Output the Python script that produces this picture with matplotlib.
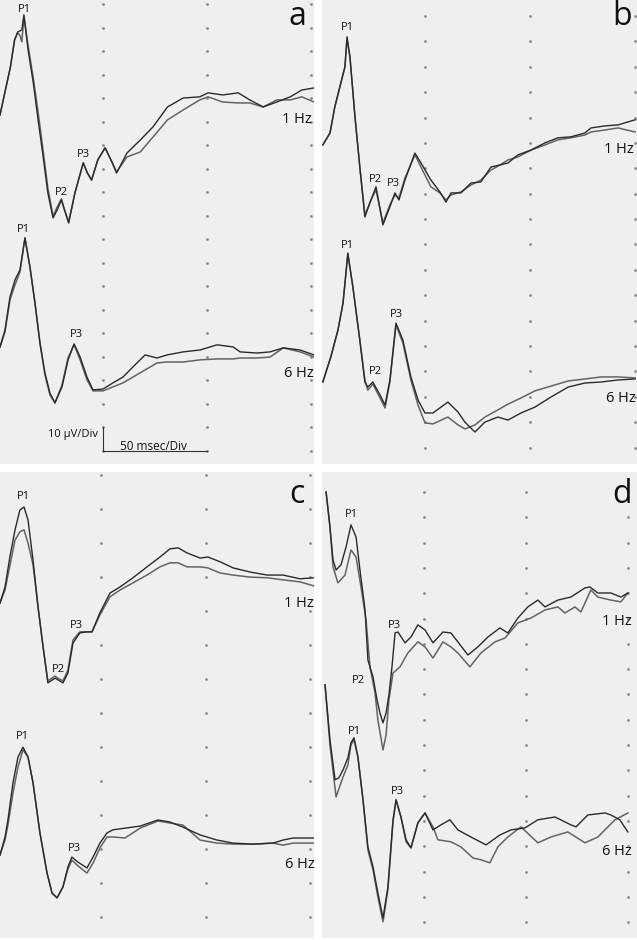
import matplotlib.pyplot as plt

plt.rcParams['font.family'] = ['Open Sans', 'DejaVu Sans']

# ------------------------ traces: time (ms), amplitude (uV) ------------------------ #
# panel a, 1 Hz
a1_t = [0.5, 5.5, 7.5, 9, 10, 11, 12, 14, 16.5, 19, 21, 23.5, 26, 28, 30, 31.5, 33.5, 36.5, 40.5, 42.5,
        44.5, 47.5, 51, 54.5, 56.5, 61.5, 68, 74, 81, 88.5, 96.5, 100.5, 107.5, 115, 120.5, 127, 133.5,
        140, 145.5, 151.5]
a1_v1 = [0, 20.4, 31.9, 35.3, 35.7, 36.2, 42.6, 27.7, 13.6, -3.4, -16.2, -33.2, -43.8, -40.4, -36.2,
         -40.4, -46.0, -33.2, -20.4, -24.7, -27.7, -19.1, -14.0, -20.4, -24.7, -16.2, -10.6, -5.1, 3.4,
         7.2, 7.7, 9.4, 8.5, 9.4, 6.4, 3.4, 5.5, 7.7, 10.6, 11.5]
a1_v2 = [0, 20.4, 31.9, 34.9, 34.0, 31.1, 41.7, 29.4, 15.7, 0.0, -13.6, -31.1, -43.0, -39.1, -35.7,
         -40.4, -45.5, -33.2, -20.4, -24.7, -27.7, -19.1, -14.0, -20.4, -24.3, -17.9, -15.7, -9.4, -2.1,
         2.1, 6.4, 7.7, 5.5, 5.1, 5.1, 3.4, 6.4, 6.4, 7.7, 5.5]

# panel a, 6 Hz
a6_t = [0.5, 2.9, 5.3, 7.7, 10.1, 12.5, 14.9, 17.3, 19.7, 22.1, 24.5, 26.9, 30.3, 33.2, 36.1, 39.0,
        42.3, 45.2, 50.0, 54.8, 59.6, 64.4, 70.2, 76.0, 80.8, 88.5, 96.6, 104.8, 112.5, 115.9, 124.0,
        130.3, 136.6, 144.7, 151.4]
a6_v1 = [0, 7.2, 21.3, 28.5, 32.8, 46.4, 34.0, 18.7, 1.7, -11.1, -19.6, -23.8, -17.0, -5.5, 1.3, -4.3,
         -12.8, -18.3, -17.9, -15.3, -12.8, -8.5, -3.4, -4.7, -3.4, -2.1, -1.3, 0.9, 0, -2.1, -2.6,
         -2.1, -0.4, -1.3, -3.4]
a6_v2 = [0, 6.4, 20.0, 26.4, 31.9, 46.4, 34.0, 18.7, 1.7, -11.9, -20.4, -23.8, -16.2, -4.7, 0.9, -5.5,
         -14.0, -18.7, -18.7, -17.0, -15.3, -12.8, -9.8, -6.8, -6.4, -6.4, -5.5, -5.1, -5.1, -4.7,
         -4.7, -4.3, -0.4, -2.1, -4.3]

# panel b, 1 Hz
b1_t = [1.4, 4.8, 7.1, 9.5, 11.9, 12.9, 14.3, 16.7, 19.0, 21.4, 24.3, 26.7, 30.0, 33.3, 35.7, 37.6,
        40.5, 45.2, 48.1, 52.8, 57.1, 60.0, 62.4, 67.1, 71.9, 76.6, 81.4, 85.7, 89.5, 94.3, 100.5,
        107.1, 113.3, 119.5, 126.1, 129.0, 135.7, 141.9, 150.0]
b1_v1 = [0, 4.7, 15.0, 22.9, 30.7, 42.6, 34.7, 11.0, -8.7, -28.4, -21.7, -16.5, -31.5, -24.4, -18.9,
         -21.7, -13.8, -3.2, -7.1, -13.8, -18.5, -22.5, -18.9, -18.9, -15.0, -14.6, -8.7, -7.9, -7.1,
         -3.9, -2.0, 0.8, 2.8, 3.2, 4.7, 6.7, 7.5, 7.9, 9.9]
b1_v2 = [0, 4.7, 15.0, 22.9, 30.7, 41.8, 34.7, 11.0, -8.7, -27.6, -21.7, -17.7, -30.7, -23.6, -19.7,
         -20.9, -13.0, -3.9, -8.7, -16.5, -18.9, -21.7, -19.7, -18.5, -15.8, -13.8, -9.9, -7.9, -5.9,
         -4.7, -2.0, 0, 2.0, 2.8, 3.9, 5.1, 5.9, 6.7, 5.1]

# panel b, 6 Hz
b6_t = [1.4, 5.2, 8.6, 11.0, 13.3, 15.7, 19.0, 21.4, 22.8, 25.2, 28.6, 31.0, 33.3, 36.2, 39.5, 43.3,
        46.7, 50.0, 53.8, 60.9, 65.7, 69.0, 73.8, 78.5, 84.7, 89.5, 95.7, 102.3, 110.0, 118.1, 126.1,
        133.8, 141.9, 150.0]
b6_v1 = [0, 9.9, 20.5, 31.1, 50.8, 37.4, 16.5, 0, -2.0, 0, -5.1, -9.1, 0.8, 23.2, 16.5, 2.0, -7.1,
         -12.2, -12.2, -7.9, -11.8, -15.8, -19.7, -15.8, -13.8, -15.0, -12.2, -9.9, -5.9, -2.0, -0.4,
         0, 0.8, 1.2]
b6_v2 = [0, 9.9, 20.5, 31.1, 50.4, 37.4, 16.5, 0.8, -3.2, -0.8, -6.3, -10.2, 0, 22.5, 15.4, 0.8, -9.1,
         -16.1, -16.5, -13.8, -16.9, -18.5, -16.9, -13.8, -11.0, -8.7, -6.3, -3.5, -1.6, 0.4, 1.2, 2.0,
         2.0, 1.6]

# panel c, 1 Hz
c1_t = [1.7, 4.1, 6.5, 8.9, 11.2, 13.2, 15.1, 17.5, 19.9, 22.3, 24.6, 28.0, 29.4, 31.8, 34.2, 36.6,
        39.9, 43.3, 45.7, 49.5, 54.3, 59.1, 65.3, 72.0, 78.2, 83.0, 86.9, 91.2, 97.4, 101.2, 107.0,
        113.2, 121.3, 129.5, 137.1, 145.2, 151.9]
c1_v1 = [0, 4.7, 13.8, 21.5, 27.3, 28.2, 24.4, 12.6, -1.2, -12.9, -23.5, -22.1, -22.6, -23.5, -20.6,
         -11.8, -8.8, -8.5, -8.5, -2.9, 2.9, 4.7, 7.4, 10.6, 13.5, 15.9, 16.2, 14.7, 13.2, 13.5, 12.1,
         10.3, 9.1, 8.2, 8.2, 7.1, 7.4]
c1_v2 = [0, 3.8, 11.2, 18.5, 20.9, 21.5, 17.6, 11.2, -1.2, -12.9, -22.9, -21.5, -22.1, -22.9, -19.7,
         -10.9, -8.5, -8.5, -8.5, -3.5, 1.8, 3.8, 5.9, 8.2, 10.6, 11.8, 11.8, 10.6, 10.6, 10.3, 8.8,
         8.2, 7.6, 7.4, 6.8, 6.2, 5.0]

# panel c, 6 Hz
c6_t = [1.7, 4.1, 5.5, 7.9, 10.3, 12.7, 15.1, 17.5, 20.8, 24.2, 26.6, 29.0, 31.8, 34.2, 36.1, 39.0,
        43.3, 46.2, 49.5, 52.9, 55.7, 61.5, 68.7, 77.3, 83.0, 89.2, 97.4, 105.5, 113.2, 122.7, 132.3,
        137.1, 141.9, 151.9]
c6_v1 = [0, 5.3, 10.3, 21.2, 28.8, 31.7, 28.8, 21.2, 6.5, -5.3, -11.2, -12.6, -9.4, -3.5, -0.6, -2.1,
         -3.8, -0.6, 3.5, 6.5, 7.4, 7.9, 8.5, 10.3, 9.7, 8.2, 5.9, 4.4, 3.5, 3.2, 3.5, 4.4, 5.0, 5.0]
c6_v2 = [0, 4.4, 8.8, 18.2, 25.9, 30.9, 28.8, 21.2, 6.5, -5.3, -11.2, -12.6, -9.4, -4.1, -1.5, -3.2,
         -5.3, -2.4, 2.1, 5.3, 5.3, 5.0, 7.9, 10.0, 9.4, 8.8, 4.4, 3.5, 3.2, 3.2, 3.5, 2.9, 3.5, 3.5]

# panel d, 1 Hz (two recordings sampled at their own turning points)
d1_t1 = [2.0, 3.9, 5.4, 6.9, 9.3, 11.8, 14.2, 16.7, 18.6, 21.1, 22.5, 25.0, 27.0, 28.4, 29.9, 31.4,
         32.8, 34.3, 35.8, 37.2, 40.7, 43.6, 47.0, 50.5, 54.4, 59.3, 63.2, 66.6, 71.5, 76.4, 81.3,
         87.2, 91.1, 96.0, 100.9, 105.8, 109.3, 115.6, 122.0, 128.9, 131.3, 135.2, 141.6, 146.5, 149.9]
d1_v1 = [30.8, 17.0, 4.0, 0, 2.0, 9.1, 17.8, 13.0, 0, -15.8, -35.6, -42.3, -51.4, -56.5, -60.4, -56.5,
         -49.4, -38.3, -24.9, -24.5, -28.8, -26.5, -21.7, -23.7, -28.8, -24.5, -24.9, -28.4, -33.6,
         -30.4, -26.5, -22.9, -24.9, -19.0, -14.6, -11.9, -14.6, -11.9, -10.7, -7.1, -6.7, -9.1, -9.1,
         -10.7, -9.1]
d1_t2 = [2.0, 3.9, 5.4, 7.8, 11.3, 14.2, 16.7, 19.1, 21.6, 23.5, 26.0, 27.4, 29.9, 31.4, 32.8, 34.8,
         38.2, 42.1, 47.0, 50.5, 54.4, 59.3, 63.2, 66.6, 72.5, 77.9, 84.8, 89.7, 96.0, 102.4, 109.3,
         115.6, 119.1, 124.0, 126.9, 131.8, 135.2, 141.6, 146.5, 149.9]
d1_v2 = [30.8, 17.0, 1.2, -5.1, -2.0, 7.9, 5.1, -6.7, -19.8, -38.3, -48.6, -59.3, -71.1, -65.2, -51.4,
         -40.7, -38.3, -32.8, -28.4, -30.4, -34.8, -28.4, -30.4, -32.8, -38.3, -32.8, -28.4, -26.9,
         -20.9, -19.0, -15.8, -14.6, -17.0, -14.6, -16.6, -7.9, -10.7, -11.9, -12.6, -9.1]

# panel d, 6 Hz
d6_t1 = [1.5, 3.9, 6.4, 8.3, 10.3, 12.7, 14.2, 15.7, 17.6, 20.1, 22.5, 25.0, 27.4, 29.9, 32.3, 34.8,
         36.3, 38.7, 41.2, 43.6, 47.0, 50.5, 54.4, 58.3, 62.7, 66.6, 73.0, 80.4, 87.2, 92.6, 99.5,
         105.8, 114.2, 122.0, 124.5, 130.3, 138.7, 141.6, 146.0, 149.9]
d6_v1 = [64.4, 42.7, 26.9, 27.7, 30.8, 35.6, 41.5, 43.5, 35.9, 19.0, 0.4, -7.5, -17.8, -27.7, -15.4,
         11.1, 19.0, 12.2, 3.2, 0, 9.9, 13.8, 7.1, 9.1, 11.1, 7.1, 4.3, 1.2, 5.1, 7.1, 7.9, 11.1, 12.2,
         9.1, 8.3, 13.0, 13.8, 13.0, 11.1, 6.3]
d6_t2 = [1.5, 3.9, 6.9, 10.3, 12.7, 14.2, 15.7, 17.6, 20.1, 22.5, 25.0, 27.4, 29.9, 32.3, 34.8, 36.3,
         38.7, 41.2, 43.6, 47.0, 50.5, 54.4, 56.8, 63.2, 68.1, 74.0, 77.9, 82.3, 86.2, 91.1, 97.5,
         105.8, 112.2, 120.5, 128.9, 135.2, 143.6, 149.9]
d6_v2 = [64.4, 40.7, 20.1, 28.0, 32.8, 40.7, 42.7, 35.9, 19.0, -0.8, -8.7, -19.4, -29.2, -16.6, 10.3,
         19.0, 12.2, 2.4, 0, 9.9, 13.8, 8.3, 3.2, 2.4, 0.4, -4.0, -4.7, -5.9, 0.4, 4.3, 8.3, 2.0, 4.3,
         6.3, 2.0, 4.3, 11.1, 13.8]

# ----------------------------- layout -------------------------------- #
W, H = 637, 940
GRAY_BG = '#efefef'
DARK = '#2a2a2a'
LIGHT = '#636363'

# box = panel edges in pixels (left, top, right, bottom)
panels = {
    'a': dict(box=(0, 0, 314, 464), xlim=(0.5, 151.4), ylim=(-148.5, 48.9), row0=47.2, nrows=20,
              shift6=-98.7,
              traces=[(a1_t, a1_v1, a1_t, a1_v2, 0.0), (a6_t, a6_v1, a6_t, a6_v2, 1.0)]),
    'b': dict(box=(322, 0, 637, 464), xlim=(1.0, 150.9), ylim=(-125.7, 57.1), row0=50.8, nrows=18,
              shift6=-93.4,
              traces=[(b1_t, b1_v1, b1_t, b1_v2, 0.0), (b6_t, b6_v1, b6_t, b6_v2, 1.0)]),
    'c': dict(box=(0, 472, 314, 938), xlim=(1.7, 151.9), ylim=(-98.5, 38.5), row0=37.6, nrows=14,
              shift6=-74.1,
              traces=[(c1_t, c1_v1, c1_t, c1_v2, 0.0), (c6_t, c6_v1, c6_t, c6_v2, 1.0)]),
    'd': dict(box=(322, 472, 637, 938), xlim=(0.0, 154.4), ylim=(-145.4, 38.7), row0=30.8, nrows=18,
              shift6=-109.8,
              traces=[(d1_t1, d1_v1, d1_t2, d1_v2, 0.0), (d6_t1, d6_v1, d6_t2, d6_v2, 1.0)]),
}
grid_cols = [50, 100, 150]

# text labels: (text, x px, baseline y px, ha, size)
labels = [
    ('a', 297, 25, 'center', 23), ('b', 622, 25, 'center', 23),
    ('c', 297, 503, 'center', 23), ('d', 622, 503, 'center', 23),
    # a
    ('P1', 24, 12, 'center', 8), ('P2', 61, 195, 'center', 8), ('P3', 83, 157, 'center', 8),
    ('1 Hz', 312, 123, 'right', 10.5), ('P1', 23, 232, 'center', 8), ('P3', 76, 337, 'center', 8),
    ('6 Hz', 314, 377, 'right', 10.5),
    ('10 µV/Div', 98, 437, 'right', 8), ('50 msec/Div', 153, 450, 'center', 8.5),
    # b
    ('P1', 347, 30, 'center', 8), ('P2', 375, 182, 'center', 8), ('P3', 393, 186, 'center', 8),
    ('1 Hz', 634, 153, 'right', 10.5), ('P1', 347, 248, 'center', 8), ('P2', 375, 374, 'center', 8),
    ('P3', 396, 317, 'center', 8), ('6 Hz', 636, 402, 'right', 10.5),
    # c
    ('P1', 23, 499, 'center', 8), ('P2', 58, 672, 'center', 8), ('P3', 76, 628, 'center', 8),
    ('1 Hz', 314, 607, 'right', 10.5), ('P1', 22, 739, 'center', 8), ('P3', 74, 851, 'center', 8),
    ('6 Hz', 315, 868, 'right', 10.5),
    # d
    ('P1', 351, 517, 'center', 8), ('P2', 358, 683, 'center', 8), ('P3', 394, 628, 'center', 8),
    ('1 Hz', 632, 625, 'right', 10.5), ('P1', 354, 734, 'center', 8), ('P3', 397, 794, 'center', 8),
    ('6 Hz', 632, 855, 'right', 10.5),
]

# --------------------------- drawing ------------------------------- #
fig = plt.figure(figsize=(W / 100, H / 100), dpi=100)
fig.patch.set_facecolor('white')

axes = {}
for name, p in panels.items():
    l, t, r, b = p['box']
    ax = fig.add_axes([l / W, 1 - b / H, (r - l) / W, (b - t) / H])
    ax.set_facecolor(GRAY_BG)
    for s in ax.spines.values():
        s.set_visible(False)
    ax.set_xticks([])
    ax.set_yticks([])
    ax.set_xlim(*p['xlim'])
    ax.set_ylim(*p['ylim'])

    # dotted divisions
    rows = [p['row0'] - 10 * k for k in range(p['nrows'])]
    for x in grid_cols:
        ax.plot([x] * len(rows), rows, linestyle='none', marker='o', ms=2.0,
                color='#8a8a8a', mec='none', zorder=1)

    for t1, v1, t2, v2, use_shift in p['traces']:
        dy = p['shift6'] * use_shift
        ax.plot(t2, [v + dy for v in v2], color=LIGHT, lw=1.1, zorder=2,
                solid_joinstyle='round')
        ax.plot(t1, [v + dy for v in v1], color=DARK, lw=1.0, zorder=3,
                solid_joinstyle='round')
    axes[name] = ax

# calibration bar in panel a: 10 uV vertical, 50 ms horizontal
bar_y = panels['a']['row0'] - 10 * 19
axes['a'].plot([50, 50, 100], [bar_y + 10, bar_y, bar_y], color='#333333', lw=0.8, zorder=3)

for s, x, y, ha, size in labels:
    fig.text(x / W, 1 - y / H, s, ha=ha, va='baseline', fontsize=size, color='#111111')

fig.savefig('out.png', dpi=100, facecolor='white')
